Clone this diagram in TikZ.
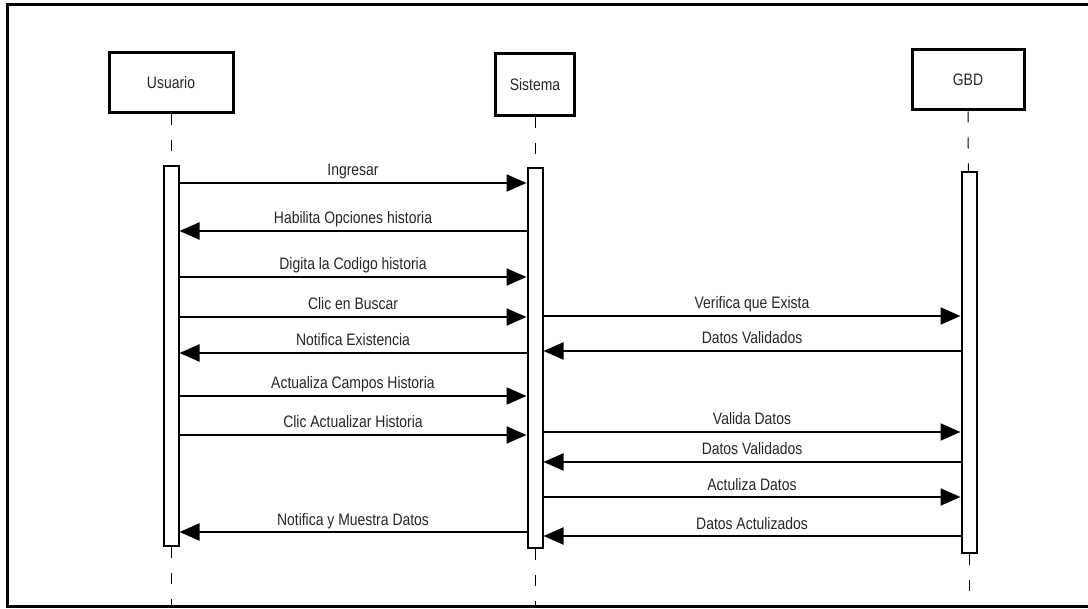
\documentclass[tikz,border=0pt]{standalone}
\usepackage{fontspec}
\setmainfont{Liberation Sans}[FakeStretch=0.84]
\usetikzlibrary{arrows.meta, positioning}

\begin{document}
\begin{tikzpicture}[
    x=0.5pt, y=-0.5pt,
    font=\fontsize{8.3}{10}\selectfont,
    every node/.style={text=black!85},
    actor/.style={draw, line width=1.5pt, inner sep=0pt, minimum height=30pt},
    actbar/.style={draw, line width=1pt, fill=white, inner sep=0pt,
                   minimum width=7.5pt, minimum height=190pt},
    life/.style={line width=0.5pt, dash pattern=on 5.5pt off 7.5pt},
    msg/.style={-{Triangle[length=10pt, width=8.5pt]}, line width=1pt},
    lbl/.style={above, midway, inner sep=3pt, text depth=0pt},
]
\useasboundingbox (0,0) rectangle (1088,609);
% frame
\draw[line width=1.5pt] (1088,5) -- (7,5) -- (7,606) -- (1088,606);

% heads of the lifelines
\node[actor, minimum width=62pt] (usuario) at (171,83) {Usuario};
\node[actor, minimum width=39.5pt, minimum height=31pt] (sistema) at (535,85) {Sistema};
\node[actor, minimum width=56pt] (gbd) at (968,80) {GBD};

% activation bars
\node[actbar] (ubar) at (171,356) {};
\node[actbar] (sbar) at (535,358) {};
\node[actbar] (gbar) at (969,362.5) {};

% lifelines
\draw[life] (usuario) -- (ubar);
\draw[life] (sistema) -- (sbar);
\draw[life] (gbd) -- (gbar);
\draw[life] (ubar) -- (ubar |- 0,606);
\draw[life] (sbar) -- (sbar |- 0,606);
\draw[life] (gbar) -- (gbar |- 0,606);

% messages Usuario <-> Sistema
\draw[msg] (ubar.east |- 0,183) -- (sbar.west |- 0,183) node[lbl] {Ingresar};
\draw[msg] (sbar.west |- 0,231) -- (ubar.east |- 0,231) node[lbl] {Habilita Opciones historia};
\draw[msg] (ubar.east |- 0,277) -- (sbar.west |- 0,277) node[lbl] {Digita la Codigo historia};
\draw[msg] (ubar.east |- 0,317) -- (sbar.west |- 0,317) node[lbl] {Clic en Buscar};
\draw[msg] (sbar.west |- 0,353) -- (ubar.east |- 0,353) node[lbl] {Notifica Existencia};
\draw[msg] (ubar.east |- 0,396) -- (sbar.west |- 0,396) node[lbl] {Actualiza Campos Historia};
\draw[msg] (ubar.east |- 0,435) -- (sbar.west |- 0,435) node[lbl] {Clic Actualizar Historia};
\draw[msg] (sbar.west |- 0,532) -- (ubar.east |- 0,532) node[lbl] {Notifica y Muestra Datos};

% messages Sistema <-> GBD
\draw[msg] (sbar.east |- 0,316) -- (gbar.west |- 0,316) node[lbl] {Verifica que Exista};
\draw[msg] (gbar.west |- 0,351) -- (sbar.east |- 0,351) node[lbl] {Datos Validados};
\draw[msg] (sbar.east |- 0,432) -- (gbar.west |- 0,432) node[lbl] {Valida Datos};
\draw[msg] (gbar.west |- 0,462) -- (sbar.east |- 0,462) node[lbl] {Datos Validados};
\draw[msg] (sbar.east |- 0,497) -- (gbar.west |- 0,497) node[lbl] {Actuliza Datos};
\draw[msg] (gbar.west |- 0,536) -- (sbar.east |- 0,536) node[lbl] {Datos Actulizados};
\end{tikzpicture}
\end{document}
